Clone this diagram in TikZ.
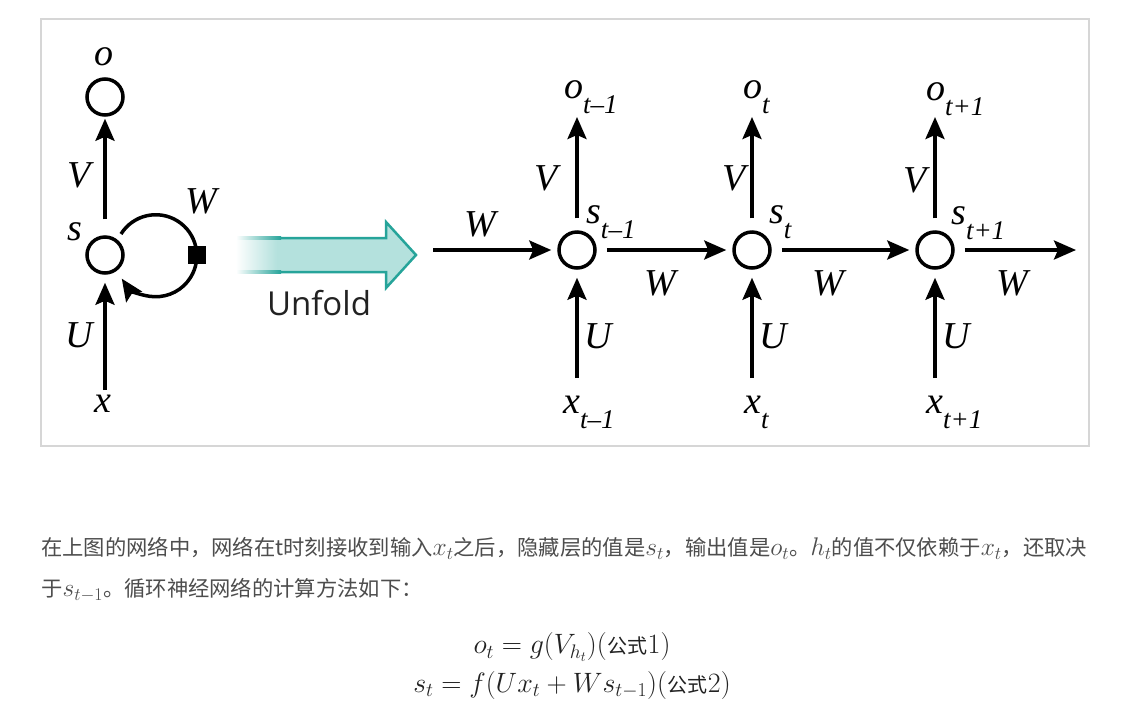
\RequirePackage{fix-cm}
\documentclass[tikz,border=0pt]{standalone}
\usepackage{fontspec}
\usetikzlibrary{arrows.meta}
\newfontfamily\lblfont{Liberation Serif}
\newfontfamily\cjk{Noto Sans CJK SC}
\newfontfamily\unffont{Open Sans}
\definecolor{tealfill}{RGB}{180,225,221}
\definecolor{tealline}{RGB}{38,164,154}
\definecolor{txtgray}{RGB}{77,77,77}
\definecolor{eqgray}{RGB}{34,34,34}
\definecolor{framegray}{RGB}{214,214,214}
\pgfdeclarehorizontalshading{unfoldfade}{100bp}{color(0bp)=(white); color(27bp)=(white); color(38bp)=(tealfill); color(100bp)=(tealfill)}
\newcommand{\lsub}[1]{\raisebox{-15pt}{\fontsize{27}{28}\selectfont #1}}
\newcommand{\mth}[1]{{\fontsize{25.5}{26}\selectfont$#1$}}

\begin{document}
\begin{tikzpicture}[x=1pt,y=1pt]
      \tikzstyle{STY1} = [draw, circle, line width=3.5pt, minimum size=36pt, inner sep=0pt]
      \tikzstyle{STY2} = [-{Stealth[length=22pt,width=19pt,inset=4pt]}, line width=3.5pt]
      \tikzstyle{STY3} = [inner sep=0pt, font=\lblfont\itshape\fontsize{38}{40}\selectfont]
      \tikzstyle{STY4} = [fill=black, minimum size=18pt, inner sep=0pt]
      \tikzstyle{STY5} = [inner sep=0pt, text=txtgray, font=\cjk\fontsize{21.3}{24}\selectfont]

      \useasboundingbox[fill=white] (0,0) rectangle (1145,-716);
      \draw[framegray, line width=1.2pt] (41,-19) rectangle (1089,-446);

      %%%%% FOLDED
      \node[STY1](o0) at (105,-97) {};
      \node[STY1](s0) at (105,-255) {};
      \coordinate (x0) at (105,-390);

      \node[STY3](lo0) at (104,-57) {o};
      \node[STY3](ls0) at (75,-232) {s};
      \node[STY3](lx0) at (103,-404) {x};
      \node[STY3](lV0) at (79,-175) {V};
      \node[STY3](lU0) at (79,-335) {U};
      \node[STY3](lW0) at (201,-201) {W};

      \draw[STY2, shorten <=16pt, shorten >=2pt] (s0) -- (o0);
      \draw[STY2, shorten >=8pt] (x0) -- (s0);
      \draw[STY2] ([shift={(16,21)}]s0.center) arc[start angle=148, end angle=-146, radius=41];
      \node[STY4](sq) at (197,-255) {};

      %%%%% UNFOLD ARROW
      \shade[shading=unfoldfade] (228,-238) -- (386,-238) -- (386,-222) -- (416,-255)
            -- (386,-288) -- (386,-272) -- (228,-272) -- cycle;
      \draw[tealline, line width=2.5pt] (280,-238) -- (386,-238) -- (386,-222) -- (416,-255)
            -- (386,-288) -- (386,-272) -- (280,-272);
      \shade[left color=white, right color=tealline] (236,-236.75) rectangle (281,-239.25);
      \shade[left color=white, right color=tealline] (236,-270.75) rectangle (281,-273.25);
      \node[inner sep=0pt, text=eqgray, font=\unffont\fontsize{33}{36}\selectfont](unf) at (319,-303) {Unfold};

      %%%%% VERTEX
      \node[STY1](s1) at (577,-250) {};
      \node[STY1](s2) at (752,-250) {};
      \node[STY1](s3) at (935,-250) {};

      \coordinate (w0) at (433,-250);
      \coordinate (w4) at (1076,-250);
      \coordinate (o1) at (577,-117);
      \coordinate (o2) at (752,-117);
      \coordinate (o3) at (935,-117);
      \coordinate (x1) at (577,-378);
      \coordinate (x2) at (752,-378);
      \coordinate (x3) at (935,-378);

      %%%%% LABELS
      \node[STY3, anchor=base west](lo1) at (564,-98) {o\lsub{t–1}};
      \node[STY3, anchor=base west](lo2) at (743,-98) {o\lsub{t}};
      \node[STY3, anchor=base west](lo3) at (926,-100) {o\lsub{t+1}};
      \node[STY3, anchor=base west](ls1) at (586,-223) {s\lsub{t–1}};
      \node[STY3, anchor=base west](ls2) at (769,-223) {s\lsub{t}};
      \node[STY3, anchor=base west](ls3) at (951,-224) {s\lsub{t+1}};
      \node[STY3, anchor=base west](lx1) at (563,-413) {x\lsub{t–1}};
      \node[STY3, anchor=base west](lx2) at (744,-413) {x\lsub{t}};
      \node[STY3, anchor=base west](lx3) at (926,-413) {x\lsub{t+1}};

      \node[STY3](lV1) at (546,-178) {V};
      \node[STY3](lV2) at (734,-178) {V};
      \node[STY3](lV3) at (915,-180) {V};
      \node[STY3](lU1) at (598,-336) {U};
      \node[STY3](lU2) at (773,-336) {U};
      \node[STY3](lU3) at (956,-336) {U};
      \node[STY3](lW1) at (480,-224) {W};
      \node[STY3](lW2) at (660,-283) {W};
      \node[STY3](lW3) at (828,-283) {W};
      \node[STY3](lW4) at (1012,-283) {W};

      %%%%% EDGES
      \draw[STY2, shorten >=6pt]  (w0) -- (s1);
      \draw[STY2, shorten <=10pt, shorten >=6pt]  (s1) -- (s2);
      \draw[STY2, shorten <=10pt, shorten >=6pt]  (s2) -- (s3);
      \draw[STY2, shorten <=10pt]  (s3) -- (w4);

      \draw[STY2, shorten <=12pt]  (s1) -- (o1);
      \draw[STY2, shorten <=12pt]  (s2) -- (o2);
      \draw[STY2, shorten <=12pt]  (s3) -- (o3);
      \draw[STY2, shorten >=8pt]  (x1) -- (s1);
      \draw[STY2, shorten >=8pt]  (x2) -- (s2);
      \draw[STY2, shorten >=8pt]  (x3) -- (s3);

      %%%%% TEXT
      \node[STY5, anchor=west](t1) at (41,-548) {在上图的网络中，网络在t时刻接收到输入\mth{x_t}之后，隐藏层的值是\mth{s_t}，输出值是\mth{o_t}。\mth{h_t}的值不仅依赖于\mth{x_t}，还取决};
      \node[STY5, anchor=west](t2) at (41,-590) {于\mth{s_{t-1}}。循环神经网络的计算方法如下：};
      \node[STY5, text=eqgray, font=\fontsize{28}{30}\selectfont](eq1) at (572,-647) {$o_t=g(V_{h_t})($\kern1pt{\cjk\fontsize{20}{22}\selectfont 公式}$1)$};
      \node[STY5, text=eqgray, font=\fontsize{28}{30}\selectfont](eq2) at (572,-685) {$s_t=f(Ux_t+Ws_{t-1})($\kern1pt{\cjk\fontsize{20}{22}\selectfont 公式}$2)$};
\end{tikzpicture}
\end{document}
